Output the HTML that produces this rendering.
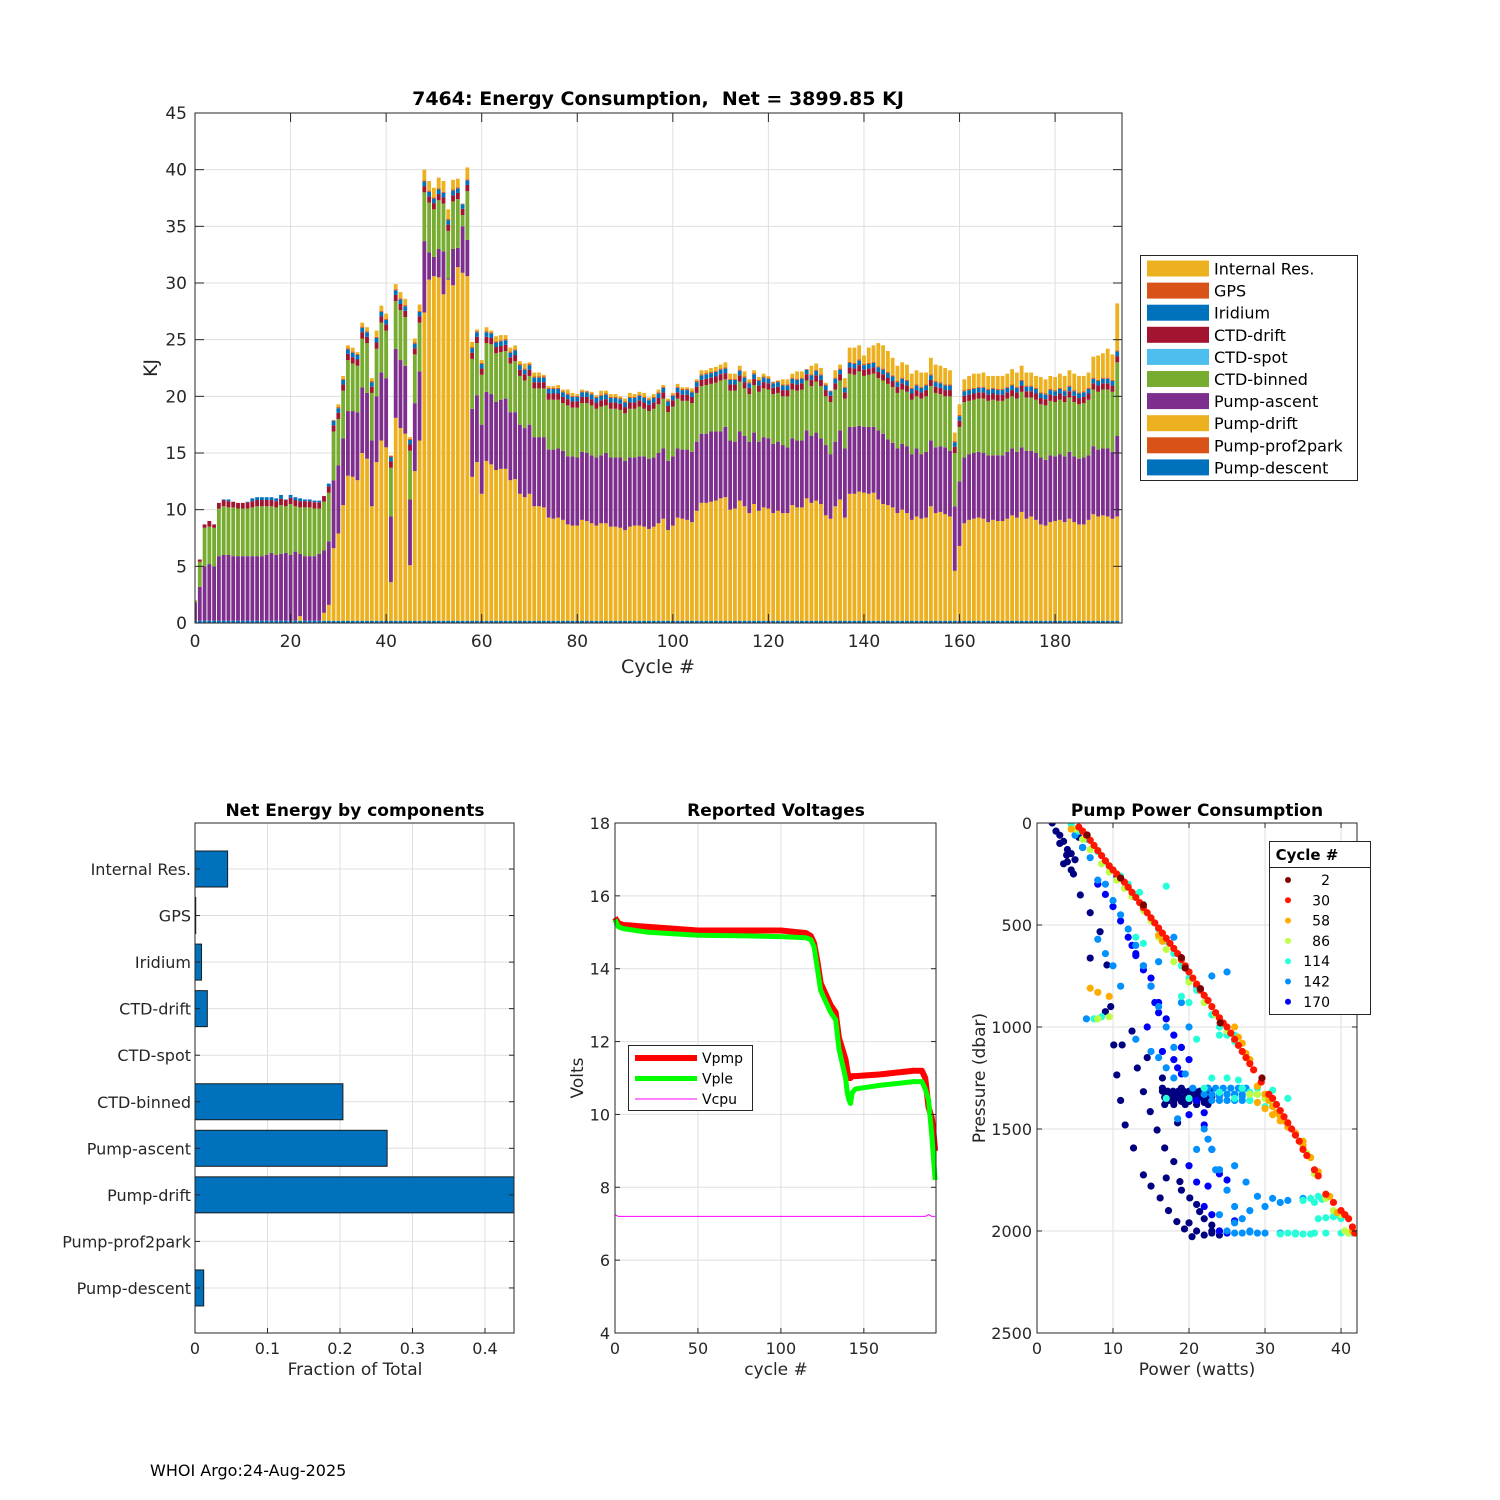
<!DOCTYPE html>
<html><head><meta charset="utf-8"><style>
body{margin:0;background:#fff}
svg{display:block;font-family:"DejaVu Sans","Liberation Sans",sans-serif}
</style></head><body>
<svg id="fig" width="1500" height="1500" viewBox="0 0 1500 1500" xmlns="http://www.w3.org/2000/svg">
<rect width="1500" height="1500" fill="#fff"/>
<g id="top"></g><g id="bl"></g><g id="bm"></g><g id="br"></g>
<text x="150" y="1476" font-size="16" fill="#000">WHOI Argo:24-Aug-2025</text>
</svg>
<script>
// ===== Top chart data (cumulative tops, KJ), cycles 0..193 =====
const driftTop=[0,0,0,0,0, 0,0,0,0,0,0,0,0,0,0,0,0,0,0,0,0,0,0.6,0,0,0,0,0.9,
1.6,6.6,7.9,10.4,13.0,12.9,12.6,15.0,14.5,10.3,14.2,16.1,15.5,3.6,18.1,17.2,16.7,5.1,13.4,16.1,27.4,30.3,30.6,30.5,29.0,30.3,29.8,31.4,30.9,30.6,
12.9,14.2,11.4,14.3,14.0,13.5,
13.6,13.6,12.6,12.7,11.4,11.1,11.4,10.3,10.3,10.2,9.3,9.2,9.3,9.1,8.7,8.6,8.6,9.1,9.0,8.8,8.6,8.8,8.8,8.5,8.5,8.4,8.2,8.5,8.6,8.6,8.5,8.3,8.5,8.8,9.2,8.2,8.6,9.3,9.2,9.1,8.9,9.9,10.6,10.6,10.7,10.8,11.0,11.1,10.0,10.1,10.8,10.3,9.7,10.5,9.9,10.2,10.1,9.7,9.9,9.7,9.7,10.4,10.2,10.2,11.0,10.6,
10.8,10.5,9.5,9.2,10.3,10.9,9.3,11.4,11.4,11.6,11.5,11.4,11.5,10.9,10.5,10.4,10.2,9.7,10.0,9.7,9.1,9.4,9.2,9.3,10.3,9.7,9.8,9.6,9.4,4.6,6.8,8.8,9.1,9.2,9.3,9.2,8.9,9.1,9.0,9.0,9.2,9.5,9.3,9.8,9.2,9.4,9.1,8.7,8.6,8.9,9.0,9.1,8.9,9.2,8.9,8.7,8.7,9.1,9.6,9.4,9.5,9.4,9.2,9.4];
const ascentTop=[1.8,3.2,5.0,5.2,5.0, 5.9,6.0,6.0,5.9,5.9,5.9,5.9,5.9,5.9,5.9,6.0,6.2,6.0,6.1,6.2,6.0,6.3,6.1,5.9,5.9,5.9,6.1,6.4,
7.2,12.6,13.9,16.3,18.7,18.7,18.6,20.8,20.3,16.1,20.0,22.1,21.6,9.4,24.2,23.2,22.7,10.9,19.4,22.2,33.7,32.7,32.3,33.0,32.8,30.4,33.0,33.1,35.0,33.8,
18.9,20.1,17.5,20.4,20.2,19.5,
19.7,19.8,18.6,18.6,17.5,17.2,17.5,16.4,16.4,16.4,15.3,15.3,15.4,15.2,14.7,14.7,14.6,15.1,15.0,14.8,14.6,14.8,15.0,14.6,14.6,14.6,14.3,14.6,14.6,14.7,14.7,14.5,14.6,15.0,15.4,14.3,14.7,15.4,15.3,15.3,15.1,16.0,16.7,16.7,16.9,16.9,16.9,17.3,16.1,16.0,16.9,16.5,16.0,16.8,16.0,16.4,16.3,15.8,16.0,15.7,15.5,16.3,16.1,16.1,17.0,16.5,
16.8,16.3,15.7,14.9,16.0,17.0,15.4,17.3,17.3,17.4,17.3,17.3,17.3,17.0,16.7,16.2,15.9,15.4,15.8,15.6,14.9,15.4,14.9,15.1,16.1,15.5,15.6,15.5,15.2,10.3,12.5,14.6,14.9,15.0,15.1,15.0,14.8,14.8,14.8,14.8,15.1,15.4,15.1,15.5,15.2,15.2,15.0,14.6,14.4,14.8,14.7,14.9,14.7,15.1,14.7,14.5,14.6,14.8,15.6,15.3,15.4,15.4,15.1,16.5];
const binnedTop=[2.0,5.4,8.4,8.5,8.4, 10.1,10.3,10.2,10.2,10.1,10.1,10.1,10.2,10.3,10.3,10.3,10.3,10.2,10.4,10.3,10.5,10.3,10.2,10.2,10.2,10.1,10.1,10.7,
11.5,16.9,18.0,20.5,23.2,22.9,22.7,25.1,24.7,20.3,24.2,26.5,25.8,13.7,28.4,27.6,27.0,15.2,23.7,26.5,38.0,37.1,36.5,37.3,37.0,34.6,37.2,37.4,36.0,38.1,
23.3,24.7,21.9,24.7,24.6,23.8,
23.9,24.0,22.9,23.1,21.8,21.4,21.8,20.7,20.7,20.7,19.7,19.7,19.7,19.4,19.2,19.0,19.0,19.4,19.4,19.2,18.9,19.1,19.2,18.9,18.9,18.8,18.5,18.9,18.9,19.1,18.9,18.7,18.9,19.3,19.8,18.6,19.1,19.8,19.6,19.6,19.4,20.3,20.9,21.0,21.1,21.2,21.4,21.5,20.5,20.5,21.3,20.7,20.2,21.0,20.4,20.7,20.6,20.2,20.3,20.0,20.0,20.6,20.5,20.6,21.4,20.9,
21.3,20.9,20.0,19.5,20.6,21.4,19.8,22.0,21.9,22.2,21.8,21.9,22.0,21.6,21.4,21.1,20.8,20.3,20.6,20.4,19.7,20.0,19.8,20.0,20.9,20.3,20.2,20.0,20.0,15.0,17.3,19.5,19.6,19.7,19.8,19.8,19.6,19.7,19.6,19.6,19.8,20.0,19.8,20.4,19.9,19.9,19.7,19.3,19.2,19.6,19.5,19.7,19.5,19.9,19.5,19.3,19.4,19.7,20.6,20.4,20.6,20.6,20.4,23.0];
const totalKJ=[2.0,5.6,8.7,9.0,8.7, 10.6,10.9,10.9,10.7,10.6,10.6,10.7,11.0,11.1,11.1,11.1,11.1,11.0,11.3,10.9,11.3,11.1,11.0,10.9,10.9,10.8,10.8,11.2,
12.3,17.9,19.3,21.8,24.5,24.3,23.9,26.5,26.1,21.6,25.8,28.0,27.3,14.8,29.9,29.2,28.6,16.4,25.1,28.1,40.0,39.0,38.4,39.3,39.0,36.5,39.1,39.2,37.0,40.2,
24.8,25.9,23.2,26.1,25.8,25.3,
25.4,25.4,24.3,24.5,23.1,22.9,23.0,22.1,22.1,21.9,20.9,20.9,21.0,20.6,20.6,20.3,20.2,20.6,20.5,20.4,20.1,20.5,20.5,20.2,20.2,20.0,19.8,20.3,20.2,20.4,20.3,19.9,20.2,20.6,21.0,19.8,20.3,21.1,20.8,20.8,20.7,21.5,22.3,22.3,22.5,22.6,22.8,23.0,22.0,22.0,22.7,22.2,21.5,22.3,21.7,22.0,21.8,21.3,21.4,21.5,21.5,22.0,22.2,22.2,22.4,22.7,
22.9,22.5,21.2,20.5,22.3,22.8,21.6,24.3,24.3,24.5,23.6,24.3,24.5,24.7,24.5,24.0,23.4,22.7,23.0,22.8,22.0,22.3,22.1,22.1,23.4,22.8,22.7,22.5,22.3,16.8,19.3,21.5,21.8,22.0,22.0,22.1,21.8,21.8,21.8,21.8,22.0,22.4,22.1,22.7,22.1,22.1,21.8,21.7,21.5,21.8,21.7,22.0,21.8,22.3,22.0,21.8,21.8,22.1,23.5,23.6,23.8,24.2,23.7,28.2];
const descentKJ=0.2, ctdDriftKJ=0.55, iridiumKJ=0.4, gpsKJ=0.1;
const yTicksTop=[0,5,10,15,20,25,30,35,40,45];
const xTicksTop=[0,20,40,60,80,100,120,140,160,180];
const legendNames=["Internal Res.","GPS","Iridium","CTD-drift","CTD-spot","CTD-binned","Pump-ascent","Pump-drift","Pump-prof2park","Pump-descent"];
const legendColors=["#EDB120","#D95319","#0072BD","#A2142F","#4DBEEE","#77AC30","#7E2F8E","#EDB120","#D95319","#0072BD"];

// ===== Bottom-left data =====
const compNames=["Internal Res.","GPS","Iridium","CTD-drift","CTD-spot","CTD-binned","Pump-ascent","Pump-drift","Pump-prof2park","Pump-descent"];
const compFrac=[0.045,0.001,0.009,0.017,0,0.204,0.265,0.46,0,0.012];
const fracTicks=[0,0.1,0.2,0.3,0.4];

// ===== Voltage data =====
const vCycles=[0,2,5,20,50,80,100,110,115,118,120,122,124,126,130,133,135,137,139,140,141,142,143,145,160,180,185,187,189,191,192,193];
const vpmp=[15.4,15.25,15.2,15.15,15.05,15.05,15.05,15.0,14.98,14.9,14.7,14.2,13.6,13.4,13.0,12.8,12.1,11.8,11.5,11.2,11.0,11.0,11.05,11.05,11.1,11.2,11.2,11.0,10.2,9.9,9.5,9.0];
const vple=[15.35,15.15,15.1,15.0,14.92,14.9,14.88,14.86,14.85,14.8,14.6,14.0,13.4,13.2,12.8,12.6,11.8,11.4,11.0,10.6,10.4,10.3,10.6,10.7,10.8,10.9,10.9,10.7,10.4,9.4,8.8,8.2];
const vcpu=[7.25,7.2,7.2,7.2,7.2,7.2,7.2,7.2,7.2,7.2,7.2,7.2,7.2,7.2,7.2,7.2,7.2,7.2,7.2,7.2,7.2,7.2,7.2,7.2,7.2,7.2,7.2,7.2,7.25,7.2,7.2,7.2];
const voltTicksY=[4,6,8,10,12,14,16,18];
const voltTicksX=[0,50,100,150];

// ===== Pump power scatter data (cycle, watts, dbar) =====
const edgeW=[5.5,6.5,7.5,8.5,9.5,10.5,11.5,12.5,13.5,14.5,15.5,16.5,17.5,18.5,19.5,20.5,21.5,22.5,23.5,24.5,25,25.5,26,26.5,27,27.5,28,28.5,29.5,30.5,31,31.5,32,32.5,33,33.5,34,34.5,35,35.5,36.5,37,38,39,40,40.5,41,41.5,41.8,6,7,8,9,10,11,12,13,14,15,16,17,18,19,20,21,22,23,24];
const edgeP=[20,60,110,160,210,250,290,340,390,440,490,540,590,640,700,760,820,870,930,980,1000,1030,1060,1090,1120,1150,1180,1210,1270,1330,1350,1380,1410,1440,1470,1500,1530,1560,1600,1630,1700,1730,1820,1860,1900,1920,1940,1980,2010,40,85,135,185,230,270,315,365,415,465,515,565,615,670,730,790,845,900,955];
const orangeW=[7,8,9.5,26,26.5,27,27.5,28,29,30,30.5,31,31.5,32,32.5,33,34,35,36,37,38.5,39.5,40.5,41.5,16,16.5,4.5,29,30,31,32,33,34,35];
const orangeP=[810,830,850,1000,1050,1080,1130,1160,1290,1330,1360,1390,1420,1440,1460,1490,1520,1560,1640,1710,1830,1910,1920,2000,550,580,30,1370,1400,1430,1460,1490,1530,1580];
const greenW=[5,6,7,8.5,9.5,10.5,11.5,12.5,14,15,16,17,18,20,22,23.5,25,26,28,29,30,31,35.5,36.5,39,40,41,8,9.5,36,38,40.5];
const greenP=[30,80,130,200,240,280,320,360,430,480,560,620,680,780,880,940,1020,1060,1330,1330,1350,1380,1620,1720,1900,1920,2010,960,950,1640,1840,2000];
const cyanW=[4.5,5.5,6.5,8,9,10,11,12,13,14,15,16,17,18,19,20,21,22,23,24,25,26,27,27.5,28,29,30,29,31,33,35,36,37,38,37,38,39,34,36,38,40,41,25,26.5,17,20,22,23,24,13,14,19,20,7.5,8.5,13.5,17,21,27,28,29,30,26,27,28,35,36.5,37.5,39,39.5,40,41.5,32,33,34,35,36.5,24,25,26];
const cyanP=[10,40,80,140,190,230,260,300,350,400,470,520,580,640,700,760,820,880,940,1000,1040,1070,1120,1150,1330,1330,1330,1300,1310,1350,1850,1840,1830,1820,1940,1935,1930,2015,2015,2010,2010,2010,1250,1260,1350,1350,1300,1250,1320,560,590,850,880,960,950,340,310,1060,1300,1360,1370,1390,1350,1300,1320,1850,1860,1845,1930,1920,1940,2010,2015,2010,2010,2015,2010,1040,1030,1040];
const blueW=[5,6,7,8,9,10,11,12,13,14,15,16,17,18,13,15,19,21,23,25,20,18,19.5,22,23,24,25,26,27,22,23,24,25,26,27,28,30,32,34,28,30,32,24,26,8,9,10,11,16,18,6.5,16,17,18.5,20.5,21,22.5,23.5,26,27.5,29,31,33,35,22.5,23.5,24.5,25.5,26.5,27.5,23,24,25,26,27,28,22,23,24,25,26,27,25,26,27,28,29];
const blueP=[60,120,170,280,300,380,450,520,600,700,800,900,1000,1100,1060,1120,880,800,750,730,1000,1250,1230,1330,1330,1340,1330,1330,1340,1500,1600,1700,1800,1880,1940,2000,2010,2010,2010,1900,1880,1860,1920,1960,570,640,700,800,680,560,960,1150,1200,1450,1300,1600,1550,1700,1680,1760,1830,1840,1850,1840,1300,1300,1300,1300,1300,1300,1360,1360,1360,1360,1360,1360,1330,1330,1330,1330,1330,1330,2000,2010,2010,2005,2010];
const deepBlueW=[8,9,10,11,12,13,14,15,16,17,18,19,20,21,22,23,24,25,10.5,12.5,14.5,16.5,18.5,20,22,24,26,24,25,22.5,13,14,15,15.5,16,18,19,20,21,22,23];
const deepBlueP=[300,350,410,480,560,640,720,800,880,960,1040,1100,1160,1360,1420,1600,1700,1750,260,600,1000,1120,1200,1430,1480,1720,1950,2000,2010,1780,650,700,760,880,930,1160,1230,1680,1760,1880,1920];
const navyW=[2,3,3.9,4.8,5.7,7,8.3,9.2,9.7,10.1,10.5,11.0,11.6,12.7,14.0,15.0,16.2,17.3,18.4,19.4,20.4,7.0,9.0,11.2,13.2,14.0,14.9,15.8,16.8,18.0,18.8,20.1,21.4,23.0,24.0,16.5,17,17.5,18,18.5,19,19.5,20,20.5,21,21.5,22,22.5,23,16.8,18,19.5,21,22.5,2.5,3.5,4.5,5.5,6,4,17,19,21,22,23,24,20,21,22,23,12.5,14.5,16.5,18.5,
16.5,17.2,17.9,18.6,19.3,20,20.7,21.4,22.1,22.8,16.8,17.5,18.2,18.9,19.6,20.3,21,21.7,22.4,17,18,19,20,21,22,3,4,5,3.5,4.5];
const navyP=[0,60,157,250,353,440,533,696,900,1088,1235,1360,1480,1593,1725,1780,1838,1900,1954,1990,2028,662,925,1088,1201,1317,1415,1505,1593,1660,1758,1838,1905,1971,2000,1300,1330,1360,1320,1345,1300,1370,1330,1310,1350,1330,1370,1300,1340,1380,1380,1380,1380,1380,40,90,150,70,120,190,1740,1800,1870,1940,2000,2020,1960,2000,2020,2010,1020,1150,1250,1470,
1315,1315,1315,1315,1315,1315,1315,1315,1315,1315,1345,1345,1345,1345,1345,1345,1345,1345,1345,1365,1365,1365,1365,1365,1365,100,130,180,200,230];
const scatterGroups=[
 {cycle:30,w:edgeW,p:edgeP},{cycle:58,w:orangeW,p:orangeP},{cycle:86,w:greenW,p:greenP},
 {cycle:114,w:cyanW,p:cyanP},{cycle:142,w:blueW,p:blueP},{cycle:170,w:deepBlueW,p:deepBlueP},{cycle:193,w:navyW,p:navyP}];
const cycle2W=[6.6,11.0,14.0,19.5,21.5,24.1,29.6,19.0];
const cycle2P=[59,270,402,711,812,980,1250,660];
const legendCycles=[2,30,58,86,114,142,170];
const pressTicks=[0,500,1000,1500,2000,2500];
const powerTicks=[0,10,20,30,40];

const NS="http://www.w3.org/2000/svg";
function mk(parent,tag,attrs){const e=document.createElementNS(NS,tag);for(const k in attrs)e.setAttribute(k,attrs[k]);parent.appendChild(e);return e;}
function txt(parent,x,y,s,size,anchor,extra){const t=mk(parent,'text',Object.assign({x:x,y:y,'font-size':size,'text-anchor':anchor||'start',fill:'#262626'},extra||{}));t.textContent=s;return t;}
function jet(c){const t=1-(c-2)/191;const cl=v=>Math.max(0,Math.min(1,v));const r=cl(1.5-Math.abs(4*t-3)),g=cl(1.5-Math.abs(4*t-2)),b=cl(1.5-Math.abs(4*t-1));return `rgb(${Math.round(r*255)},${Math.round(g*255)},${Math.round(b*255)})`;}

// ================= TOP CHART =================
(function(){
const g=document.getElementById('top');
const L=195,R=1122,T=113,B=623,XMAX=194,YMAX=45;
const X=v=>L+v/XMAX*(R-L), Y=v=>B-v/YMAX*(B-T);
mk(g,'rect',{x:L,y:T,width:R-L,height:B-T,fill:'#fff'});
const grid=mk(g,'g',{stroke:'#dfdfdf','stroke-width':1});

yTicksTop.forEach(v=>{mk(grid,'line',{x1:L,x2:R,y1:Y(v),y2:Y(v)});});
xTicksTop.forEach(v=>{mk(grid,'line',{x1:X(v),x2:X(v),y1:T,y2:B});});
const cp=mk(g,'clipPath',{id:'topclip'});mk(cp,'rect',{x:L,y:T,width:R-L,height:B-T});
const bars=mk(g,'g',{'clip-path':'url(#topclip)'});

const bw=(R-L)/XMAX*0.8;
for(let i=0;i<totalKJ.length;i++){
  const c=i, x=X(c)-bw/2;
  const tot=totalKJ[i];
  const segs=[];
  const d0=Math.min(descentKJ,tot);
  segs.push([0,d0,'#0072BD','pump-descent']);
  let cur=d0;
  const dt=Math.max(cur,driftTop[i]); if(dt>cur){segs.push([cur,dt,'#EDB120','pump-drift']);cur=dt;}
  const at=Math.max(cur,ascentTop[i]); if(at>cur){segs.push([cur,at,'#7E2F8E','pump-ascent']);cur=at;}
  const bt=Math.max(cur,binnedTop[i]); if(bt>cur){segs.push([cur,bt,'#77AC30','ctd-binned']);cur=bt;}
  const rd=Math.min(tot,cur+ctdDriftKJ); if(rd>cur){segs.push([cur,rd,'#A2142F','ctd-drift']);cur=rd;}
  const ir=Math.min(tot,cur+iridiumKJ); if(ir>cur){segs.push([cur,ir,'#0072BD','iridium']);cur=ir;}
  const gp=Math.min(tot,cur+gpsKJ); if(gp>cur){segs.push([cur,gp,'#D95319','gps']);cur=gp;}
  if(tot>cur){segs.push([cur,tot,'#EDB120','internal-res']);}
  segs.forEach(s=>{const r=mk(bars,'rect',{x:x,y:Y(s[1]),width:bw,height:Y(s[0])-Y(s[1]),fill:s[2]});
    
    });
}
const ax=mk(g,'g',{stroke:'#262626','stroke-width':1,fill:'none'});

mk(ax,'rect',{x:L,y:T,width:R-L,height:B-T});
yTicksTop.forEach(v=>{mk(ax,'line',{x1:L,x2:L+9,y1:Y(v),y2:Y(v)});mk(ax,'line',{x1:R,x2:R-9,y1:Y(v),y2:Y(v)});
 const t=txt(g,L-8,Y(v)+6,String(v),17,'end');});
xTicksTop.forEach(v=>{mk(ax,'line',{x1:X(v),x2:X(v),y1:B,y2:B-9});mk(ax,'line',{x1:X(v),x2:X(v),y1:T,y2:T+9});
 const t=txt(g,X(v),B+24,String(v),17,'middle');});
let t=txt(g,658,105,'7464: Energy Consumption,\u00a0 Net = 3899.85 KJ',19,'middle',{'font-weight':'bold',fill:'#000'});

t=txt(g,658,673,'Cycle #',19,'middle');
t=txt(g,0,0,'KJ',19,'middle',{transform:'translate(157,368) rotate(-90)'});
const lg=mk(g,'g',{});
mk(lg,'rect',{x:1140.5,y:255.5,width:217,height:225,fill:'#fff',stroke:'#262626'});
legendNames.forEach((n,k)=>{const yy=268.5+k*22.1;
 const s=mk(lg,'rect',{x:1147,y:yy-8,width:62,height:16,fill:legendColors[k]});
 
 const tt=txt(lg,1214,yy+6,n,16,'start',{fill:'#000'});});
})();

// ================= BOTTOM LEFT =================
(function(){
const g=document.getElementById('bl');
const L=195,R=514,T=823,B=1333,XMAX=0.44;
const X=v=>L+v/XMAX*(R-L);
const rowY=k=>869+k*46.55;
const grid=mk(g,'g',{stroke:'#dfdfdf'});
fracTicks.forEach(v=>mk(grid,'line',{x1:X(v),x2:X(v),y1:T,y2:B}));
compNames.forEach((n,k)=>mk(grid,'line',{x1:L,x2:R,y1:rowY(k),y2:rowY(k)}));
compNames.forEach((n,k)=>{
 if(compFrac[k]>0){const r=mk(g,'rect',{x:L,y:rowY(k)-18,width:Math.min(X(compFrac[k]),R)-L,height:36,fill:'#0072BD',stroke:'#1a1a1a','stroke-width':1});
 }
 const t=txt(g,191,rowY(k)+6,n,16,'end');
});
const ax=mk(g,'g',{stroke:'#262626',fill:'none'});
mk(ax,'rect',{x:L,y:T,width:R-L,height:B-T});
compNames.forEach((n,k)=>{mk(ax,'line',{x1:L,x2:L+5,y1:rowY(k),y2:rowY(k)});mk(ax,'line',{x1:R,x2:R-5,y1:rowY(k),y2:rowY(k)});});
fracTicks.forEach(v=>{mk(ax,'line',{x1:X(v),x2:X(v),y1:B,y2:B-5});
 const t=txt(g,X(v),B+21,String(v),16,'middle');});
let t=txt(g,355,816,'Net Energy by components',17,'middle',{'font-weight':'bold',fill:'#000'});
t=txt(g,355,1375,'Fraction of Total',17,'middle');
})();

// ================= BOTTOM MIDDLE =================
(function(){
const g=document.getElementById('bm');
const L=615,R=936,T=823,B=1333,XMAX=193.5,YMIN=4,YMAX=18;
const X=v=>L+v/XMAX*(R-L), Y=v=>B-(v-YMIN)/(YMAX-YMIN)*(B-T);
const grid=mk(g,'g',{stroke:'#dfdfdf'});
voltTicksY.forEach(v=>mk(grid,'line',{x1:L,x2:R,y1:Y(v),y2:Y(v)}));
voltTicksX.forEach(v=>mk(grid,'line',{x1:X(v),x2:X(v),y1:T,y2:B}));
function line(arr,col,w,name){const p=mk(g,'polyline',{points:arr.map((v,i)=>X(vCycles[i])+','+Y(v)).join(' '),fill:'none',stroke:col,'stroke-width':w,'stroke-linejoin':'round'});
 }
line(vpmp,'#ff0000',6,'vpmp-line');line(vple,'#00ff00',5,'vple-line');line(vcpu,'#ff00ff',1,'vcpu-line');
const ax=mk(g,'g',{stroke:'#262626',fill:'none'});
mk(ax,'rect',{x:L,y:T,width:R-L,height:B-T});
voltTicksY.forEach(v=>{mk(ax,'line',{x1:L,x2:L+5,y1:Y(v),y2:Y(v)});mk(ax,'line',{x1:R,x2:R-5,y1:Y(v),y2:Y(v)});
 const t=txt(g,L-5,Y(v)+6,String(v),16,'end');});
voltTicksX.forEach(v=>{mk(ax,'line',{x1:X(v),x2:X(v),y1:B,y2:B-5});
 const t=txt(g,X(v),B+21,String(v),16,'middle');});
let t=txt(g,776,816,'Reported Voltages',17,'middle',{'font-weight':'bold',fill:'#000'});
t=txt(g,776,1375,'cycle #',17,'middle');
t=txt(g,0,0,'Volts',17,'middle',{transform:'translate(583,1078) rotate(-90)'});
const lg=mk(g,'g',{});
mk(lg,'rect',{x:628.5,y:1045.5,width:124,height:65,fill:'#fff',stroke:'#262626'});
[['Vpmp','#ff0000',6],['Vple','#00ff00',5],['Vcpu','#ff00ff',1]].forEach((e,k)=>{const yy=1058+k*20.5;
 mk(lg,'line',{x1:635,x2:697,y1:yy,y2:yy,stroke:e[1],'stroke-width':e[2]});
 const tt=txt(lg,702,yy+5,e[0],14,'start',{fill:'#000'});});
})();

// ================= BOTTOM RIGHT =================
(function(){
const g=document.getElementById('br');
const L=1037,R=1357,T=823,B=1333,XMAX=42.1,YMAX=2500;
const X=v=>L+v/XMAX*(R-L), Y=v=>T+v/YMAX*(B-T);
const grid=mk(g,'g',{stroke:'#dfdfdf'});
pressTicks.forEach(v=>mk(grid,'line',{x1:L,x2:R,y1:Y(v),y2:Y(v)}));
powerTicks.forEach(v=>mk(grid,'line',{x1:X(v),x2:X(v),y1:T,y2:B}));
const cp=mk(g,'clipPath',{id:'brclip'});mk(cp,'rect',{x:L,y:T,width:R-L,height:B-T});
const pts=mk(g,'g',{'clip-path':'url(#brclip)'});

scatterGroups.slice().reverse().concat([{cycle:2,w:cycle2W,p:cycle2P}]).forEach(gr=>{
  gr.w.forEach((w,i)=>{const c=mk(pts,'circle',{cx:X(w),cy:Y(gr.p[i]),r:3.6,fill:jet(gr.cycle)});
   });
});
const ax=mk(g,'g',{stroke:'#262626',fill:'none'});
mk(ax,'rect',{x:L,y:T,width:R-L,height:B-T});
pressTicks.forEach(v=>{mk(ax,'line',{x1:L,x2:L+5,y1:Y(v),y2:Y(v)});mk(ax,'line',{x1:R,x2:R-5,y1:Y(v),y2:Y(v)});
 const t=txt(g,L-5,Y(v)+6,String(v),16,'end');});
powerTicks.forEach(v=>{mk(ax,'line',{x1:X(v),x2:X(v),y1:B,y2:B-5});mk(ax,'line',{x1:X(v),x2:X(v),y1:T,y2:T+5});
 const t=txt(g,X(v),B+21,String(v),16,'middle');});
let t=txt(g,1197,816,'Pump Power Consumption',17,'middle',{'font-weight':'bold',fill:'#000'});
t=txt(g,1197,1375,'Power (watts)',17,'middle');
t=txt(g,0,0,'Pressure (dbar)',17,'middle',{transform:'translate(985,1078) rotate(-90)'});
const lg=mk(g,'g',{});
mk(lg,'rect',{x:1269.5,y:841.5,width:101,height:173,fill:'#fff',stroke:'#262626'});
mk(lg,'line',{x1:1269.5,x2:1370.5,y1:867.5,y2:867.5,stroke:'#262626'});
const ht=txt(lg,1307,860,'Cycle #',15,'middle',{'font-weight':'bold',fill:'#000'});
legendCycles.forEach((c,k)=>{const yy=880+k*20.3;
 mk(lg,'circle',{cx:1288,cy:yy,r:3,fill:jet(c)});
 const tt=txt(lg,1330,yy+5,String(c),14,'end',{fill:'#000'});});
})();
</script>
</body></html>
